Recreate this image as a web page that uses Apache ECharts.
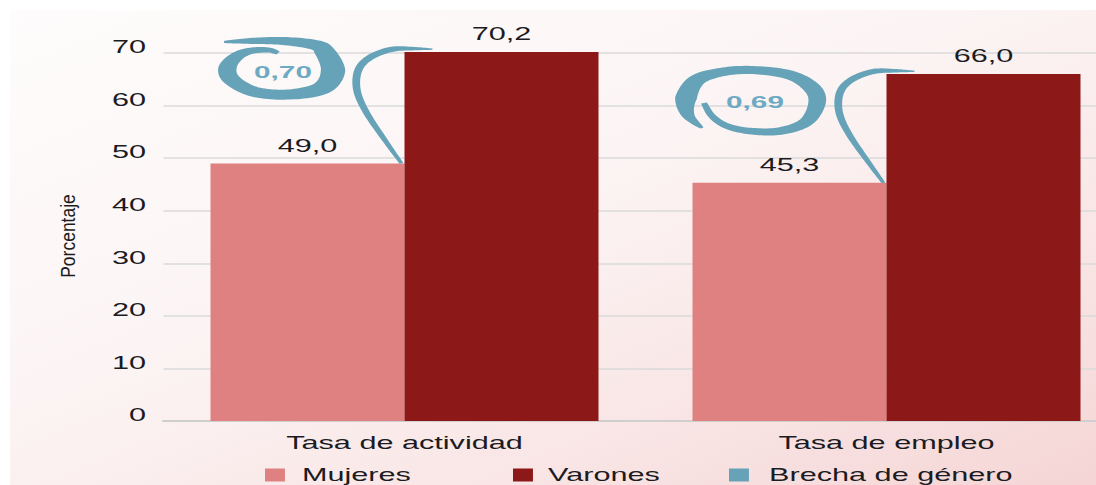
<!DOCTYPE html>
<html>
<head>
<meta charset="utf-8">
<script src="https://cdn.jsdelivr.net/npm/echarts/dist/echarts.min.js"></script>
<style>
  html, body { margin: 0; padding: 0; background: #ffffff; overflow: hidden; width: 1096px; height: 485px; }
  #c { width: 680px; height: 485px; transform: scaleX(1.7507987); transform-origin: 0 0; }
</style>
</head>
<body>
<div id="c"></div>
<script>
// ---------------- data ----------------
const categories = ['Tasa de actividad', 'Tasa de empleo'];
const mujeres = [49.0, 45.3];
const varones = [70.2, 66.0];
const brecha = [0.70, 0.69];
const seriesNames = ['Mujeres', 'Varones', 'Brecha de género'];
const yAxisName = 'Porcentaje';
const yMin = 0, yMax = 70, yStep = 10;

// ---------------- style ----------------
const S = 1096 / 626;               // horizontal stretch of the picture
const FONT = "'Liberation Sans', Arial, sans-serif";
const TXT = '#1b1b22';
const C_MUJ = '#e08181';
const C_VAR = '#8c1818';
const C_BRE = '#67a3b8';

const fmt1 = v => v.toFixed(1).replace('.', ',');
const fmt2 = v => v.toFixed(2).replace('.', ',');

// decoration shapes (offsets in picture px: x relative to category centre, y relative to bar tops)
const CONNECTOR = [[-3, 1.0], [-20.5, 0.78], [-37, 0.56], [-46.5, 0.38], [-48, 0.23], [-43, 0.115], [-30.5, 0.03], [-12, -0.025], [8, -0.03], [28, -0.025]];
const CONNECTOR_W = [2.2, 3.4, 4, 4.3, 4.5, 4.8, 5.2, 5.2, 3.6, 1.2];
const SWIRLS = [
  { dx: -121.5, dy: 19, tx: 0, ty: 1,
    pts: [[-59, -29], [-33, -30], [0, -30], [32, -26], [42, -19], [50, 0], [39, 17], [7, 23.5], [-28, 21], [-51, 9], [-55.5, -3], [-47, -14], [-33, -20], [-15, -21], [-5, -18]],
    w: [2, 6, 8, 10, 12, 14, 12.5, 10, 10, 10.5, 10.5, 8.5, 6.5, 5, 3.5] },
  { dx: -136.5, dy: 26, tx: 5, ty: 2,
    pts: [[-48, 28], [-62, 15], [-64, -2], [-53, -20], [-28, -28], [3, -30], [40, -25], [62, -12], [67, 3], [56, 22], [30, 31], [0, 31], [-23, 26], [-38, 16], [-46, 3]],
    w: [2, 7.5, 12.5, 10.5, 8.5, 8, 9, 10.5, 10, 8.5, 7.5, 6.5, 5.5, 4.5, 3.5] }
];

function strokePoly(pts, ws, steps) {
  const n = pts.length, P = [], W = [];
  for (let i = 0; i < n - 1; i++) {
    const p0 = pts[Math.max(i - 1, 0)], p1 = pts[i], p2 = pts[i + 1], p3 = pts[Math.min(i + 2, n - 1)];
    for (let s = 0; s < steps; s++) {
      const t = s / steps, t2 = t * t, t3 = t2 * t;
      const f = (a, b, c, d) => 0.5 * ((2 * b) + (-a + c) * t + (2 * a - 5 * b + 4 * c - d) * t2 + (-a + 3 * b - 3 * c + d) * t3);
      P.push([f(p0[0], p1[0], p2[0], p3[0]), f(p0[1], p1[1], p2[1], p3[1])]);
      W.push(ws[i] + (ws[i + 1] - ws[i]) * t);
    }
  }
  P.push(pts[n - 1]); W.push(ws[n - 1]);
  const L = [], R = [];
  for (let j = 0; j < P.length; j++) {
    const a = P[Math.max(j - 1, 0)], b = P[Math.min(j + 1, P.length - 1)];
    let tx = b[0] - a[0], ty = b[1] - a[1];
    const len = Math.hypot(tx, ty) || 1; tx /= len; ty /= len;
    const h = W[j] / 2;
    L.push([P[j][0] - ty * h, P[j][1] + tx * h]);
    R.push([P[j][0] + ty * h, P[j][1] - tx * h]);
  }
  return L.concat(R.reverse());
}

const brechaData = categories.map((c, i) => [i, mujeres[i], varones[i], brecha[i]]);

function renderBrecha(params, api) {
  const i = params.dataIndex;
  const cat = api.value(0);
  const pM = api.coord([cat, api.value(1)]);
  const pV = api.coord([cat, api.value(2)]);
  const cx = pM[0], yM = pM[1], yV = pV[1];
  const u = api.size([1, 0])[0] / 482;
  const conn = CONNECTOR.map(([dx, f]) => [cx + dx * u, yV + f * (yM - yV)]);
  const sw = SWIRLS[i % SWIRLS.length];
  const scx = cx + sw.dx * u, scy = yV + sw.dy;
  const spts = sw.pts.map(([dx, dy]) => [scx + dx * u, scy + dy]);
  const fill = api.visual('color');
  return {
    type: 'group',
    children: [
      { type: 'polygon', shape: { points: strokePoly(conn, CONNECTOR_W, 12) }, style: { fill: fill } },
      { type: 'polygon', shape: { points: strokePoly(spts, sw.w, 12) }, style: { fill: fill } },
      { type: 'text', x: scx + sw.tx * u, y: scy + sw.ty,
        style: { text: fmt2(api.value(3)), fill: '#6eaac3', font: 'bold 17px ' + FONT, align: 'center', verticalAlign: 'middle' } }
    ]
  };
}

const chart = echarts.init(document.getElementById('c'), null, { renderer: 'svg' });

function legendAt(name, left, pad) {
  return {
    data: [name], left: left, top: 466, padding: 0,
    itemWidth: 11.4, itemHeight: 13, icon: 'rect',
    textStyle: { fontSize: 17.5, color: TXT, fontFamily: FONT, padding: [0, 0, 0, pad] },
    selectedMode: false
  };
}

chart.setOption({
  animation: false,
  backgroundColor: '#ffffff',
  textStyle: { fontFamily: FONT },
  graphic: [
    { type: 'rect', z: -100, silent: true,
      shape: { x: 10 / S, y: 10, width: 700, height: 500 },
      style: { fill: { type: 'linear', x: 0, y: 0, x2: 1, y2: 1, colorStops: [
        { offset: 0, color: '#fefcfc' }, { offset: 0.4, color: '#fcf4f4' }, { offset: 0.68, color: '#f9e5e5' }, { offset: 1, color: '#f4d0d0' }] } } },
    { type: 'text', x: 68 / S, y: 236, rotation: Math.PI / 2, scaleY: 0.65, silent: true,
      style: { text: yAxisName, fill: TXT, font: '17.5px ' + FONT, align: 'center', verticalAlign: 'middle' } }
  ],
  grid: { left: 163.5 / S, top: 53, width: 964 / S, height: 368, containLabel: false },
  legend: [legendAt(seriesNames[0], 265 / S, 4.7), legendAt(seriesNames[1], 513 / S, 3.6), legendAt(seriesNames[2], 729 / S, 6.5)],
  xAxis: {
    type: 'category', data: categories,
    axisTick: { show: false },
    axisLine: { lineStyle: { color: '#cfcfcf', width: 2 } },
    axisLabel: { fontSize: 17.5, color: TXT, margin: 13, fontFamily: FONT }
  },
  yAxis: {
    type: 'value', min: yMin, max: yMax, interval: yStep,
    axisLine: { show: false }, axisTick: { show: false },
    splitLine: { lineStyle: { color: '#dadada', width: 1.5 } },
    axisLabel: { fontSize: 17.5, color: TXT, margin: 10, fontFamily: FONT, verticalAlign: 'bottom', lineHeight: 12 }
  },
  series: [
    { name: seriesNames[0], type: 'bar', data: mujeres, barWidth: 194 / S, barGap: '0%', clip: false,
      itemStyle: { color: C_MUJ },
      label: { show: true, position: 'top', distance: 9, fontSize: 17.5, color: TXT, fontFamily: FONT, formatter: p => fmt1(p.value) } },
    { name: seriesNames[1], type: 'bar', data: varones, barWidth: 194 / S, barGap: '0%', clip: false,
      itemStyle: { color: C_VAR },
      label: { show: true, position: 'top', distance: 9, fontSize: 17.5, color: TXT, fontFamily: FONT, formatter: p => fmt1(p.value) } },
    { name: seriesNames[2], type: 'custom', data: brechaData, renderItem: renderBrecha, z: 5,
      encode: { x: 0, y: [1, 2] }, itemStyle: { color: C_BRE }, clip: false }
  ]
});
</script>
</body>
</html>
